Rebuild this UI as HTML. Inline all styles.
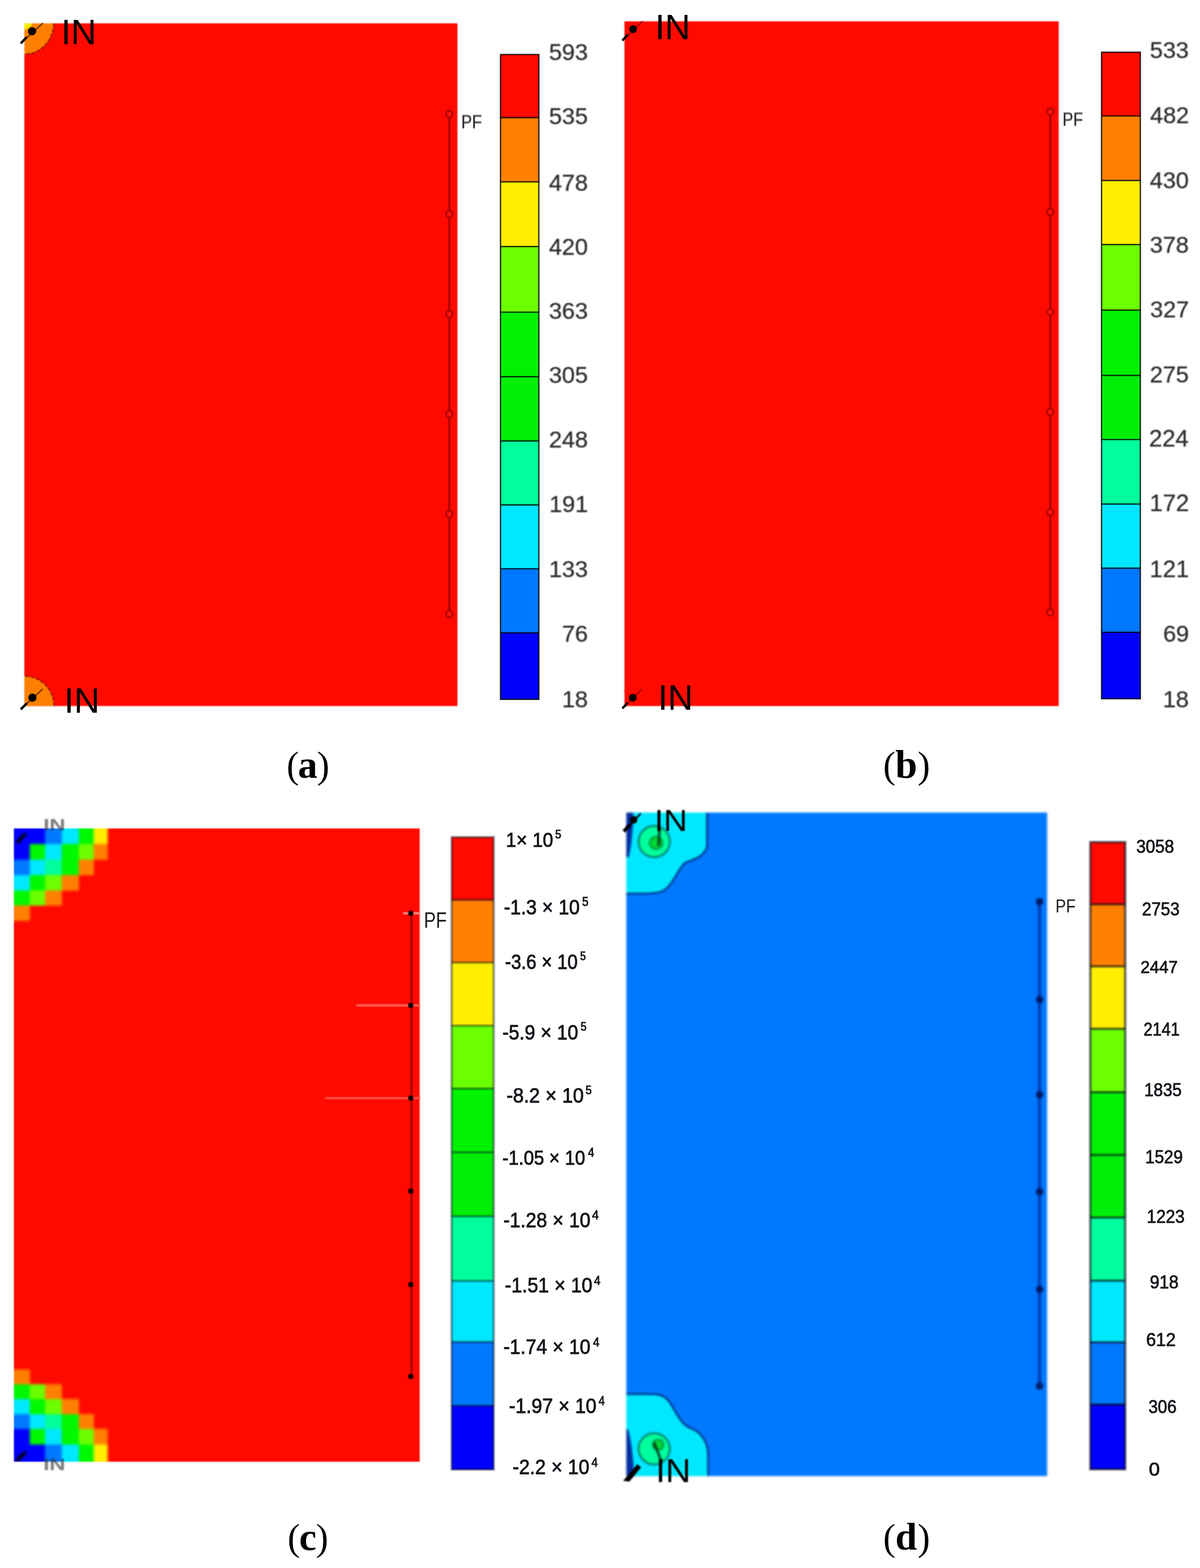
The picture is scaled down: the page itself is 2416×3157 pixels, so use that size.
<!DOCTYPE html>
<html lang="en">
<head>
<meta charset="utf-8">
<title>Figure: simulated field maps (a)-(d)</title>
<style>
html, body { margin: 0; padding: 0; background: #fff; }
body { width: 2416px; height: 3157px; }
svg { display: block; }
text { font-family: "Liberation Sans", sans-serif; }
.in { fill: #000; }
.in3 text { fill: #333; font-weight: bold; fill-opacity: 0.66; }
.pf1 { fill: #2c2c2c; stroke: #2c2c2c; stroke-width: 0.5px; filter: blur(0.8px); }
.pf2 { fill: #1a1a1a; filter: blur(0.6px); }
.pf3 { fill: #1a1a1a; filter: blur(0.6px); }
.cb1 text { fill: #2f2f2f; stroke: #2f2f2f; stroke-width: 0.45px; }
.cb3 text { fill: #15151c; stroke: #15151c; stroke-width: 1.1px; }
.cb4 text { fill: #15151c; stroke: #15151c; stroke-width: 1.0px; }
.cap { font-family: "Liberation Serif", serif; fill: #000; }
.cap .b { font-weight: bold; }
</style>
</head>
<body>
<svg width="2416" height="3157" viewBox="0 0 2416 3157">
<rect x="0" y="0" width="2416" height="3157" fill="#ffffff"/>
<g id="panel-a">
<clipPath id="clipA"><rect x="49.0" y="47.0" width="872.0" height="1374.5"/></clipPath>
<g style="filter:blur(0.9px)">
<rect x="49.0" y="47.0" width="872.0" height="1374.5" fill="#ff0900"/>
<g clip-path="url(#clipA)">
<ellipse cx="49.0" cy="47.0" rx="59" ry="62" fill="#ff8000" stroke="#5a1800" stroke-width="2.2" stroke-dasharray="7 3.5" stroke-opacity="0.85"/>
<ellipse cx="49.0" cy="1421.5" rx="59.5" ry="60" fill="#ff8000" stroke="#5a1800" stroke-width="2.2" stroke-dasharray="7 3.5" stroke-opacity="0.85"/>
<path d="M49.0,47.0 h16 q-2,9 -16,13 z" fill="#f2ea00"/>
</g>
<line x1="904.6" x2="904.6" y1="229.6" y2="1236.3" stroke="#7a0000" stroke-width="2.6"/>
<circle cx="904.6" cy="229.6" r="6.6" fill="#ff160c" stroke="#960000" stroke-width="2.8"/>
<circle cx="904.6" cy="430.94" r="6.6" fill="#ff160c" stroke="#960000" stroke-width="2.8"/>
<circle cx="904.6" cy="632.28" r="6.6" fill="#ff160c" stroke="#960000" stroke-width="2.8"/>
<circle cx="904.6" cy="833.62" r="6.6" fill="#ff160c" stroke="#960000" stroke-width="2.8"/>
<circle cx="904.6" cy="1034.96" r="6.6" fill="#ff160c" stroke="#960000" stroke-width="2.8"/>
<circle cx="904.6" cy="1236.3" r="6.6" fill="#ff160c" stroke="#960000" stroke-width="2.8"/>
</g>
<g style="filter:blur(0.7px)">
<line x1="42" y1="87.3" x2="86.1" y2="46.8" stroke="#2a0a00" stroke-width="2.0" stroke-opacity="0.85" stroke-linecap="round"/>
<line x1="42" y1="87.3" x2="53.75" y2="74.61" stroke="#000" stroke-width="4.6"/>
<circle cx="64.6" cy="62.9" r="8.2" fill="#000"/>
<line x1="42" y1="1428" x2="85.5" y2="1387.5" stroke="#2a0a00" stroke-width="2.0" stroke-opacity="0.85" stroke-linecap="round"/>
<line x1="42" y1="1428" x2="54.06" y2="1415.94" stroke="#000" stroke-width="4.6"/>
<circle cx="65.2" cy="1404.8" r="8.2" fill="#000"/>
</g>
<text class="in" transform="translate(123.11,88.5) scale(1.0021,1)" font-size="70.87">IN</text>
<text class="in" transform="translate(129.04,1435.1) scale(1.0143,1)" font-size="70.72">IN</text>
<text class="pf1" transform="translate(928.48,257.9) scale(0.8654,1)" font-size="37.83">PF</text>
<g style="filter:blur(0.7px)">
<rect x="1007.7" y="109.8" width="77.2" height="127.5" fill="#ff0900"/>
<rect x="1007.7" y="236.8" width="77.2" height="129.9" fill="#ff8000"/>
<rect x="1007.7" y="366.2" width="77.2" height="130.6" fill="#ffee00"/>
<rect x="1007.7" y="496.3" width="77.2" height="132.7" fill="#6cff00"/>
<rect x="1007.7" y="628.5" width="77.2" height="130.3" fill="#00f200"/>
<rect x="1007.7" y="758.3" width="77.2" height="130.1" fill="#00ee08"/>
<rect x="1007.7" y="887.9" width="77.2" height="129.3" fill="#00ff9c"/>
<rect x="1007.7" y="1016.7" width="77.2" height="128.8" fill="#00e8ff"/>
<rect x="1007.7" y="1145" width="77.2" height="129.7" fill="#0078ff"/>
<rect x="1007.7" y="1274.2" width="77.2" height="134.3" fill="#0000ff"/>
<line x1="1007.7" x2="1084.9" y1="236.8" y2="236.8" stroke="#000" stroke-width="2.7" stroke-opacity="0.82"/>
<line x1="1007.7" x2="1084.9" y1="366.2" y2="366.2" stroke="#000" stroke-width="2.7" stroke-opacity="0.82"/>
<line x1="1007.7" x2="1084.9" y1="496.3" y2="496.3" stroke="#000" stroke-width="2.7" stroke-opacity="0.82"/>
<line x1="1007.7" x2="1084.9" y1="628.5" y2="628.5" stroke="#000" stroke-width="2.7" stroke-opacity="0.82"/>
<line x1="1007.7" x2="1084.9" y1="758.3" y2="758.3" stroke="#000" stroke-width="2.7" stroke-opacity="0.82"/>
<line x1="1007.7" x2="1084.9" y1="887.9" y2="887.9" stroke="#000" stroke-width="2.7" stroke-opacity="0.82"/>
<line x1="1007.7" x2="1084.9" y1="1016.7" y2="1016.7" stroke="#000" stroke-width="2.7" stroke-opacity="0.82"/>
<line x1="1007.7" x2="1084.9" y1="1145" y2="1145" stroke="#000" stroke-width="2.7" stroke-opacity="0.82"/>
<line x1="1007.7" x2="1084.9" y1="1274.2" y2="1274.2" stroke="#000" stroke-width="2.7" stroke-opacity="0.82"/>
<rect x="1007.7" y="109.8" width="77.2" height="1298.2" fill="none" stroke="#000" stroke-width="2.7" stroke-opacity="0.82"/>
</g>
<g class="cb1" style="filter:blur(0.8px)">
<text class="l" transform="translate(1105.21,121.03) scale(1.0000,1)" font-size="47.04">593</text>
<text class="l" transform="translate(1105.21,250.13) scale(1.0000,1)" font-size="47.04">535</text>
<text class="l" transform="translate(1105.21,383.53) scale(1.0000,1)" font-size="47.04">478</text>
<text class="l" transform="translate(1105.21,512.63) scale(1.0000,1)" font-size="47.04">420</text>
<text class="l" transform="translate(1105.21,642.23) scale(1.0000,1)" font-size="47.04">363</text>
<text class="l" transform="translate(1105.21,771.43) scale(1.0000,1)" font-size="47.04">305</text>
<text class="l" transform="translate(1105.21,900.63) scale(1.0000,1)" font-size="47.04">248</text>
<text class="l" transform="translate(1105.68,1031.03) scale(1.0000,1)" font-size="47.04">191</text>
<text class="l" transform="translate(1105.21,1162.43) scale(1.0000,1)" font-size="47.04">133</text>
<text class="l" transform="translate(1131.38,1291.63) scale(1.0000,1)" font-size="47.04">76</text>
<text class="l" transform="translate(1131.38,1424.23) scale(1.0000,1)" font-size="47.04">18</text>
</g>
</g>
<g id="panel-b">
<g style="filter:blur(0.9px)">
<rect x="1257.2" y="43.0" width="874.3" height="1378.6" fill="#ff0900"/>
<line x1="2114.6" x2="2114.6" y1="225.0" y2="1233.0" stroke="#7a0000" stroke-width="2.6"/>
<circle cx="2114.6" cy="225" r="6.6" fill="#ff160c" stroke="#960000" stroke-width="2.8"/>
<circle cx="2114.6" cy="426.6" r="6.6" fill="#ff160c" stroke="#960000" stroke-width="2.8"/>
<circle cx="2114.6" cy="628.2" r="6.6" fill="#ff160c" stroke="#960000" stroke-width="2.8"/>
<circle cx="2114.6" cy="829.8" r="6.6" fill="#ff160c" stroke="#960000" stroke-width="2.8"/>
<circle cx="2114.6" cy="1031.4" r="6.6" fill="#ff160c" stroke="#960000" stroke-width="2.8"/>
<circle cx="2114.6" cy="1233" r="6.6" fill="#ff160c" stroke="#960000" stroke-width="2.8"/>
</g>
<g style="filter:blur(0.7px)">
<line x1="1253.2" y1="81.4" x2="1293" y2="43.3" stroke="#6a0000" stroke-width="2.0" stroke-opacity="0.85" stroke-linecap="round"/>
<line x1="1253.2" y1="81.4" x2="1264.33" y2="69.65" stroke="#000" stroke-width="4.6"/>
<circle cx="1274.6" cy="58.8" r="7.7" fill="#000"/>
<line x1="1253.2" y1="1426.2" x2="1290.7" y2="1389.3" stroke="#6a0000" stroke-width="2.0" stroke-opacity="0.85" stroke-linecap="round"/>
<line x1="1253.2" y1="1426.2" x2="1264.02" y2="1415.07" stroke="#000" stroke-width="4.6"/>
<circle cx="1274" cy="1404.8" r="7.7" fill="#000"/>
</g>
<text class="in" transform="translate(1318.8,78.5) scale(1.0038,1)" font-size="70.87">IN</text>
<text class="in" transform="translate(1324.87,1428.6) scale(0.9940,1)" font-size="70.72">IN</text>
<text class="pf1" transform="translate(2139.21,253.2) scale(0.8696,1)" font-size="37.25">PF</text>
<g style="filter:blur(0.7px)">
<rect x="2217.8" y="105.1" width="78.1" height="128.9" fill="#ff0900"/>
<rect x="2217.8" y="233.5" width="78.1" height="130.3" fill="#ff8000"/>
<rect x="2217.8" y="363.3" width="78.1" height="129.6" fill="#ffee00"/>
<rect x="2217.8" y="492.4" width="78.1" height="132.5" fill="#6cff00"/>
<rect x="2217.8" y="624.4" width="78.1" height="132" fill="#00f200"/>
<rect x="2217.8" y="755.9" width="78.1" height="129.6" fill="#00ee08"/>
<rect x="2217.8" y="885" width="78.1" height="130.3" fill="#00ff9c"/>
<rect x="2217.8" y="1014.8" width="78.1" height="129.6" fill="#00e8ff"/>
<rect x="2217.8" y="1143.9" width="78.1" height="129.6" fill="#0078ff"/>
<rect x="2217.8" y="1273" width="78.1" height="134.3" fill="#0000ff"/>
<line x1="2217.8" x2="2295.9" y1="233.5" y2="233.5" stroke="#000" stroke-width="2.7" stroke-opacity="0.82"/>
<line x1="2217.8" x2="2295.9" y1="363.3" y2="363.3" stroke="#000" stroke-width="2.7" stroke-opacity="0.82"/>
<line x1="2217.8" x2="2295.9" y1="492.4" y2="492.4" stroke="#000" stroke-width="2.7" stroke-opacity="0.82"/>
<line x1="2217.8" x2="2295.9" y1="624.4" y2="624.4" stroke="#000" stroke-width="2.7" stroke-opacity="0.82"/>
<line x1="2217.8" x2="2295.9" y1="755.9" y2="755.9" stroke="#000" stroke-width="2.7" stroke-opacity="0.82"/>
<line x1="2217.8" x2="2295.9" y1="885" y2="885" stroke="#000" stroke-width="2.7" stroke-opacity="0.82"/>
<line x1="2217.8" x2="2295.9" y1="1014.8" y2="1014.8" stroke="#000" stroke-width="2.7" stroke-opacity="0.82"/>
<line x1="2217.8" x2="2295.9" y1="1143.9" y2="1143.9" stroke="#000" stroke-width="2.7" stroke-opacity="0.82"/>
<line x1="2217.8" x2="2295.9" y1="1273" y2="1273" stroke="#000" stroke-width="2.7" stroke-opacity="0.82"/>
<rect x="2217.8" y="105.1" width="78.1" height="1301.7" fill="none" stroke="#000" stroke-width="2.7" stroke-opacity="0.82"/>
</g>
<g class="cb1" style="filter:blur(0.8px)">
<text class="l" transform="translate(2315.01,117.23) scale(1.0000,1)" font-size="47.04">533</text>
<text class="l" transform="translate(2315.48,247.53) scale(1.0000,1)" font-size="47.04">482</text>
<text class="l" transform="translate(2315.01,378.83) scale(1.0000,1)" font-size="47.04">430</text>
<text class="l" transform="translate(2315.01,508.53) scale(1.0000,1)" font-size="47.04">378</text>
<text class="l" transform="translate(2315.48,639.43) scale(1.0000,1)" font-size="47.04">327</text>
<text class="l" transform="translate(2315.01,769.73) scale(1.0000,1)" font-size="47.04">275</text>
<text class="l" transform="translate(2313.44,899.3) scale(1.0000,1)" font-size="47.71">224</text>
<text class="l" transform="translate(2314.39,1029.1) scale(1.0000,1)" font-size="47.71">172</text>
<text class="l" transform="translate(2314.39,1161.7) scale(1.0000,1)" font-size="47.71">121</text>
<text class="l" transform="translate(2341.65,1291.63) scale(1.0000,1)" font-size="47.04">69</text>
<text class="l" transform="translate(2341.18,1423.73) scale(1.0000,1)" font-size="47.04">18</text>
</g>
</g>
<text class="cap" font-size="75.22"><tspan x="576.99" y="1565.55">(</tspan><tspan class="b" x="599.87" y="1565.61" font-size="78.75">a</tspan><tspan x="638.19" y="1565.55">)</tspan></text>
<text class="cap" font-size="75.22"><tspan x="1778.09" y="1565.55">(</tspan><tspan class="b" x="1802.55" y="1565.51" font-size="79.44">b</tspan><tspan x="1847.49" y="1565.55">)</tspan></text>
<text class="cap" font-size="75.22"><tspan x="579.09" y="3120.55">(</tspan><tspan class="b" x="602.28" y="3121.31" font-size="78.75">c</tspan><tspan x="636.09" y="3120.55">)</tspan></text>
<text class="cap" font-size="75.22"><tspan x="1778.09" y="3120.55">(</tspan><tspan class="b" x="1802.52" y="3119.91" font-size="78.57">d</tspan><tspan x="1847.49" y="3120.55">)</tspan></text>
<g id="panel-c">
<clipPath id="clipC"><rect x="28.0" y="1668.0" width="232" height="1275"/></clipPath>
<g style="filter:blur(1.1px)">
<rect x="28.0" y="1668.0" width="817" height="1275" fill="#ff0900"/>
<g clip-path="url(#clipC)"><g style="filter:blur(2.7px)">
<rect x="8.0" y="1648.0" width="290" height="1315" fill="#ff0900"/>
<rect x="8" y="1648" width="52.4" height="51.7" fill="#0000ff"/>
<rect x="8" y="2908" width="52.4" height="55.4" fill="#0000ff"/>
<rect x="60" y="1648" width="31.1" height="51.7" fill="#0000ff"/>
<rect x="60" y="2908" width="31.1" height="55.4" fill="#0000ff"/>
<rect x="90.7" y="1648" width="34" height="51.7" fill="#0078ff"/>
<rect x="90.7" y="2908" width="34" height="55.4" fill="#0078ff"/>
<rect x="124.3" y="1648" width="34.7" height="51.7" fill="#00e8ff"/>
<rect x="124.3" y="2908" width="34.7" height="55.4" fill="#00e8ff"/>
<rect x="158.6" y="1648" width="30.4" height="51.7" fill="#00f800"/>
<rect x="158.6" y="2908" width="30.4" height="55.4" fill="#00f800"/>
<rect x="188.6" y="1648" width="28.2" height="51.7" fill="#ffee00"/>
<rect x="188.6" y="2908" width="28.2" height="55.4" fill="#ffee00"/>
<rect x="8" y="1699.3" width="52.4" height="31.8" fill="#0000ff"/>
<rect x="8" y="2876.5" width="52.4" height="31.9" fill="#0000ff"/>
<rect x="60" y="1699.3" width="31.1" height="31.8" fill="#00f800"/>
<rect x="60" y="2876.5" width="31.1" height="31.9" fill="#00f800"/>
<rect x="90.7" y="1699.3" width="34" height="31.8" fill="#00e8ff"/>
<rect x="90.7" y="2876.5" width="34" height="31.9" fill="#00e8ff"/>
<rect x="124.3" y="1699.3" width="34.7" height="31.8" fill="#00f800"/>
<rect x="124.3" y="2876.5" width="34.7" height="31.9" fill="#00f800"/>
<rect x="158.6" y="1699.3" width="30.4" height="31.8" fill="#6cff00"/>
<rect x="158.6" y="2876.5" width="30.4" height="31.9" fill="#6cff00"/>
<rect x="188.6" y="1699.3" width="28.2" height="31.8" fill="#ff8000"/>
<rect x="188.6" y="2876.5" width="28.2" height="31.9" fill="#ff8000"/>
<rect x="8" y="1730.7" width="52.4" height="31.6" fill="#0078ff"/>
<rect x="8" y="2847" width="52.4" height="29.9" fill="#0078ff"/>
<rect x="60" y="1730.7" width="31.1" height="31.6" fill="#00e8ff"/>
<rect x="60" y="2847" width="31.1" height="29.9" fill="#00e8ff"/>
<rect x="90.7" y="1730.7" width="34" height="31.6" fill="#00ff9c"/>
<rect x="90.7" y="2847" width="34" height="29.9" fill="#00ff9c"/>
<rect x="124.3" y="1730.7" width="34.7" height="31.6" fill="#00f800"/>
<rect x="124.3" y="2847" width="34.7" height="29.9" fill="#00f800"/>
<rect x="158.6" y="1730.7" width="30.4" height="31.6" fill="#ff8000"/>
<rect x="158.6" y="2847" width="30.4" height="29.9" fill="#ff8000"/>
<rect x="8" y="1761.9" width="52.4" height="31.4" fill="#00e8ff"/>
<rect x="8" y="2816.5" width="52.4" height="30.9" fill="#00e8ff"/>
<rect x="60" y="1761.9" width="31.1" height="31.4" fill="#00f800"/>
<rect x="60" y="2816.5" width="31.1" height="30.9" fill="#00f800"/>
<rect x="90.7" y="1761.9" width="34" height="31.4" fill="#6cff00"/>
<rect x="90.7" y="2816.5" width="34" height="30.9" fill="#6cff00"/>
<rect x="124.3" y="1761.9" width="34.7" height="31.4" fill="#ff8000"/>
<rect x="124.3" y="2816.5" width="34.7" height="30.9" fill="#ff8000"/>
<rect x="8" y="1792.9" width="52.4" height="30.5" fill="#00f800"/>
<rect x="8" y="2786.9" width="52.4" height="30" fill="#00f800"/>
<rect x="60" y="1792.9" width="31.1" height="30.5" fill="#6cff00"/>
<rect x="60" y="2786.9" width="31.1" height="30" fill="#6cff00"/>
<rect x="90.7" y="1792.9" width="34" height="30.5" fill="#ff8000"/>
<rect x="90.7" y="2786.9" width="34" height="30" fill="#ff8000"/>
<rect x="8" y="1823" width="52.4" height="31" fill="#ff8000"/>
<rect x="8" y="2757.1" width="52.4" height="30.2" fill="#ff8000"/>
<line x1="36.2" y1="1695" x2="49.5" y2="1680" stroke="#000" stroke-width="7" stroke-linecap="round"/>
<line x1="35" y1="2939" x2="50" y2="2925.5" stroke="#000" stroke-width="7" stroke-linecap="round"/>
</g></g>
</g>
<g class="in3" style="filter:blur(1.5px)">
<text class="l" transform="translate(87.13,1672.4) scale(1.3012,1)" font-size="34.14">IN</text>
<text class="l" transform="translate(87.13,2960.2) scale(1.3405,1)" font-size="33.14">IN</text>
</g>
<g style="filter:blur(1.1px)">
<line x1="828.6" x2="828.6" y1="1838.75" y2="2771.3" stroke="#300000" stroke-opacity="0.7" stroke-width="2.6"/>
<line x1="717.5" x2="846" y1="2024.3" y2="2024.3" stroke="#ff6a60" stroke-width="4.2"/>
<line x1="654.5" x2="846" y1="2211.0" y2="2211.0" stroke="#ff5a50" stroke-width="4.2"/>
<line x1="811.5" x2="846" y1="1838.75" y2="1838.75" stroke="#ff9a92" stroke-width="4"/>
<rect x="822" y="1833.75" width="10" height="10" rx="3.5" fill="#0a0000"/>
<rect x="822" y="2019.3" width="10" height="10" rx="3.5" fill="#0a0000"/>
<rect x="822" y="2206" width="10" height="10" rx="3.5" fill="#0a0000"/>
<rect x="822" y="2393" width="10" height="10" rx="3.5" fill="#0a0000"/>
<rect x="822" y="2581.2" width="10" height="10" rx="3.5" fill="#0a0000"/>
<rect x="822" y="2766.3" width="10" height="10" rx="3.5" fill="#0a0000"/>
</g>
<text class="pf2" transform="translate(853.42,1868.3) scale(0.8278,1)" font-size="43.48">PF</text>
<g style="filter:blur(1.3px)">
<rect x="909.3" y="1685.5" width="84.7" height="127" fill="#ff0900"/>
<rect x="909.3" y="1812" width="84.7" height="126.5" fill="#ff8000"/>
<rect x="909.3" y="1938" width="84.7" height="127.6" fill="#ffee00"/>
<rect x="909.3" y="2065.1" width="84.7" height="127.1" fill="#6cff00"/>
<rect x="909.3" y="2191.7" width="84.7" height="128.7" fill="#00f200"/>
<rect x="909.3" y="2319.9" width="84.7" height="129.6" fill="#00ee08"/>
<rect x="909.3" y="2449" width="84.7" height="130.5" fill="#00ff9c"/>
<rect x="909.3" y="2579" width="84.7" height="123.5" fill="#00e8ff"/>
<rect x="909.3" y="2702" width="84.7" height="128.6" fill="#0078ff"/>
<rect x="909.3" y="2830.1" width="84.7" height="128.9" fill="#0000ff"/>
<line x1="909.3" x2="994" y1="1812" y2="1812" stroke="#001020" stroke-width="5.0" stroke-opacity="0.4"/>
<line x1="909.3" x2="994" y1="1938" y2="1938" stroke="#001020" stroke-width="5.0" stroke-opacity="0.4"/>
<line x1="909.3" x2="994" y1="2065.1" y2="2065.1" stroke="#001020" stroke-width="5.0" stroke-opacity="0.4"/>
<line x1="909.3" x2="994" y1="2191.7" y2="2191.7" stroke="#001020" stroke-width="5.0" stroke-opacity="0.4"/>
<line x1="909.3" x2="994" y1="2319.9" y2="2319.9" stroke="#001020" stroke-width="5.0" stroke-opacity="0.4"/>
<line x1="909.3" x2="994" y1="2449" y2="2449" stroke="#001020" stroke-width="5.0" stroke-opacity="0.4"/>
<line x1="909.3" x2="994" y1="2579" y2="2579" stroke="#001020" stroke-width="5.0" stroke-opacity="0.4"/>
<line x1="909.3" x2="994" y1="2702" y2="2702" stroke="#001020" stroke-width="5.0" stroke-opacity="0.4"/>
<line x1="909.3" x2="994" y1="2830.1" y2="2830.1" stroke="#001020" stroke-width="5.0" stroke-opacity="0.4"/>
<rect x="909.3" y="1685.5" width="84.7" height="1273" fill="none" stroke="#001020" stroke-width="5.0" stroke-opacity="0.4"/>
</g>
<g class="cb3" style="filter:blur(0.75px)">
<text class="l" transform="translate(1018.57,1705) scale(0.9307,1)" font-size="40.42">1× 10<tspan x="106.54" y="-17.23" font-size="23.57">5</tspan></text>
<text class="l" transform="translate(1014.57,1841.28) scale(0.9172,1)" font-size="41.83">-1.3 × 10<tspan x="171.62" y="-17.23" font-size="25">5</tspan></text>
<text class="l" transform="translate(1016.63,1950.98) scale(0.8769,1)" font-size="41.97">-3.6 × 10<tspan x="172.6" y="-18.31" font-size="23.43">5</tspan></text>
<text class="l" transform="translate(1011.46,2093.38) scale(0.9179,1)" font-size="41.83">-5.9 × 10<tspan x="171.57" y="-18.22" font-size="23.43">5</tspan></text>
<text class="l" transform="translate(1019.63,2219.98) scale(0.9363,1)" font-size="41.83">-8.2 × 10<tspan x="170.35" y="-17.22" font-size="23.43">5</tspan></text>
<text class="l" transform="translate(1011.53,2345.1) scale(0.9107,1)" font-size="40.42">-1.05 × 10<tspan x="189.11" y="-16.1" font-size="24.86">4</tspan></text>
<text class="l" transform="translate(1013.45,2471.18) scale(0.9214,1)" font-size="41.97">-1.28 × 10<tspan x="193.68" y="-16.08" font-size="26.29">4</tspan></text>
<text class="l" transform="translate(1016.54,2602.08) scale(0.9294,1)" font-size="41.83">-1.51 × 10<tspan x="193.13" y="-14.98" font-size="24.86">4</tspan></text>
<text class="l" transform="translate(1013.45,2726.18) scale(0.9214,1)" font-size="41.97">-1.74 × 10<tspan x="195.87" y="-14.98" font-size="25">4</tspan></text>
<text class="l" transform="translate(1024.74,2845.07) scale(0.8962,1)" font-size="43.38">-1.97 × 10<tspan x="201.42" y="-16.07" font-size="24.86">4</tspan></text>
<text class="l" transform="translate(1031.94,2968.08) scale(0.9270,1)" font-size="41.97">-2.2 × 10<tspan x="171.41" y="-14.98" font-size="25">4</tspan></text>
</g>
</g>
<g id="panel-d">
<clipPath id="clipD"><rect x="1261.0" y="1636.0" width="847.2" height="1336"/></clipPath>
<g style="filter:blur(2.1px)">
<rect x="1261.0" y="1636.0" width="847.2" height="1336" fill="#0078ff"/>
<g clip-path="url(#clipD)">
<path d="M1235,1610 L1423.6,1610 L1423.6,1702 C1423.6,1710 1419,1716 1411.4,1722.5 C1404,1728.5 1393,1732 1383,1735.5 C1376,1738 1371,1747 1365.7,1755.5 C1360,1764 1357,1770 1351.4,1778 C1347,1785 1342,1790 1334,1794 C1325,1798.5 1310,1799 1297,1799.3 L1235,1799.5 Z" fill="#00e8ff" stroke="#002a80" stroke-width="3.6"/>
<circle cx="1317.1" cy="1694.3" r="31.5" fill="#00ff9c" stroke="#006a58" stroke-width="3.2"/>
<ellipse cx="1321" cy="1697" rx="13" ry="12.5" fill="#00d838" stroke="#007a34" stroke-width="2.4"/>
<path d="M1240,1630 L1275,1630 C1275,1665 1272,1700 1266,1726 L1240,1726 Z" fill="#002ea0"/>
<path d="M1235,2998 L1425.7,2998 L1425.7,2930 C1425.7,2920 1424,2912 1421,2905 C1417,2896 1411,2888 1404.3,2882.9 C1398,2878 1392,2876 1388,2874.5 C1382,2871.5 1377,2867 1372,2861 C1366,2854 1360,2843 1354.3,2832.9 C1350,2825 1346,2819 1340,2814.5 C1334,2810 1327,2807.5 1318,2807 L1235,2806.4 Z" fill="#00e8ff" stroke="#002a80" stroke-width="3.6"/>
<circle cx="1317.1" cy="2917.1" r="31.5" fill="#00ff9c" stroke="#006a58" stroke-width="3.2"/>
<ellipse cx="1325" cy="2909" rx="11" ry="10.5" fill="#00d838" stroke="#007a34" stroke-width="2.4"/>
<path d="M1240,2980 L1277,2980 C1276,2945 1272,2905 1265,2878 L1240,2878 Z" fill="#002ea0"/>
<line x1="1328" y1="1668" x2="1326" y2="1703" stroke="#001a10" stroke-width="4.6" stroke-opacity="0.9"/>
<line x1="1316.5" y1="2904" x2="1332" y2="2943" stroke="#001a10" stroke-width="4.6" stroke-opacity="0.9"/>
<line x1="2093" x2="2093" y1="1815.5" y2="2790.5" stroke="#003cb0" stroke-width="6.5"/>
<circle cx="2093" cy="1815.5" r="7.6" fill="#001a66"/>
<circle cx="2093" cy="2012.4" r="7.6" fill="#001a66"/>
<circle cx="2093" cy="2204.0" r="7.6" fill="#001a66"/>
<circle cx="2093" cy="2399.5" r="7.6" fill="#001a66"/>
<circle cx="2093" cy="2596.0" r="7.6" fill="#001a66"/>
<circle cx="2093" cy="2790.5" r="7.6" fill="#001a66"/>
</g>
</g>
<g style="filter:blur(1.4px)">
<line x1="1257" y1="1673" x2="1290" y2="1638" stroke="#00051e" stroke-width="3.4"/>
<line x1="1256" y1="1674" x2="1269" y2="1660" stroke="#000" stroke-width="7"/>
<circle cx="1275.7" cy="1650.7" r="7.6" fill="#000"/>
<path d="M1254.5,2981.5 L1267,2983 L1291,2954 L1283,2948 Z" fill="#000"/>
</g>
<g style="filter:blur(1.1px)">
<text class="in" transform="translate(1317.62,1672.9) scale(1.1053,1)" font-size="60.14">IN</text>
<text class="in" transform="translate(1320.03,2984.3) scale(1.0686,1)" font-size="66.23">IN</text>
</g>
<text class="pf3" transform="translate(2124.96,1836.7) scale(0.8619,1)" font-size="36.88">PF</text>
<g style="filter:blur(1.5px)">
<rect x="2195.2" y="1695.6" width="70.2" height="125.6" fill="#ff0900"/>
<rect x="2195.2" y="1820.7" width="70.2" height="125.5" fill="#ff8000"/>
<rect x="2195.2" y="1945.7" width="70.2" height="126.2" fill="#ffee00"/>
<rect x="2195.2" y="2071.4" width="70.2" height="128.3" fill="#6cff00"/>
<rect x="2195.2" y="2199.2" width="70.2" height="126.6" fill="#00f200"/>
<rect x="2195.2" y="2325.3" width="70.2" height="126.5" fill="#00ee08"/>
<rect x="2195.2" y="2451.3" width="70.2" height="127.9" fill="#00ff9c"/>
<rect x="2195.2" y="2578.7" width="70.2" height="124.5" fill="#00e8ff"/>
<rect x="2195.2" y="2702.7" width="70.2" height="125.6" fill="#0078ff"/>
<rect x="2195.2" y="2827.8" width="70.2" height="130.7" fill="#0000ff"/>
<line x1="2195.2" x2="2265.4" y1="1820.7" y2="1820.7" stroke="#000818" stroke-width="5.2" stroke-opacity="0.55"/>
<line x1="2195.2" x2="2265.4" y1="1945.7" y2="1945.7" stroke="#000818" stroke-width="5.2" stroke-opacity="0.55"/>
<line x1="2195.2" x2="2265.4" y1="2071.4" y2="2071.4" stroke="#000818" stroke-width="5.2" stroke-opacity="0.55"/>
<line x1="2195.2" x2="2265.4" y1="2199.2" y2="2199.2" stroke="#000818" stroke-width="5.2" stroke-opacity="0.55"/>
<line x1="2195.2" x2="2265.4" y1="2325.3" y2="2325.3" stroke="#000818" stroke-width="5.2" stroke-opacity="0.55"/>
<line x1="2195.2" x2="2265.4" y1="2451.3" y2="2451.3" stroke="#000818" stroke-width="5.2" stroke-opacity="0.55"/>
<line x1="2195.2" x2="2265.4" y1="2578.7" y2="2578.7" stroke="#000818" stroke-width="5.2" stroke-opacity="0.55"/>
<line x1="2195.2" x2="2265.4" y1="2702.7" y2="2702.7" stroke="#000818" stroke-width="5.2" stroke-opacity="0.55"/>
<line x1="2195.2" x2="2265.4" y1="2827.8" y2="2827.8" stroke="#000818" stroke-width="5.2" stroke-opacity="0.55"/>
<rect x="2195.2" y="1695.6" width="70.2" height="1262.4" fill="none" stroke="#000818" stroke-width="5.2" stroke-opacity="0.55"/>
</g>
<g class="cb4" style="filter:blur(0.75px)">
<text class="l" transform="translate(2287.67,1716.84) scale(0.9446,1)" font-size="36.2">3058</text>
<text class="l" transform="translate(2299.3,1842.84) scale(0.9429,1)" font-size="36.06">2753</text>
<text class="l" transform="translate(2296.22,1959.1) scale(0.9586,1)" font-size="35.14">2447</text>
<text class="l" transform="translate(2302.36,2085.1) scale(0.8954,1)" font-size="36.57">2141</text>
<text class="l" transform="translate(2303.73,2207.04) scale(0.9387,1)" font-size="36.06">1835</text>
<text class="l" transform="translate(2305.72,2342.34) scale(0.9444,1)" font-size="36.06">1529</text>
<text class="l" transform="translate(2308.79,2462.24) scale(0.9531,1)" font-size="36.06">1223</text>
<text class="l" transform="translate(2314.91,2593.53) scale(0.9501,1)" font-size="36.62">918</text>
<text class="l" transform="translate(2307.41,2709.54) scale(0.9931,1)" font-size="36.06">612</text>
<text class="l" transform="translate(2312.28,2844.84) scale(0.9399,1)" font-size="36.06">306</text>
<text class="l" transform="translate(2313.11,2970.94) scale(1.1037,1)" font-size="36.06">0</text>
</g>
</g>
</svg>
</body>
</html>
